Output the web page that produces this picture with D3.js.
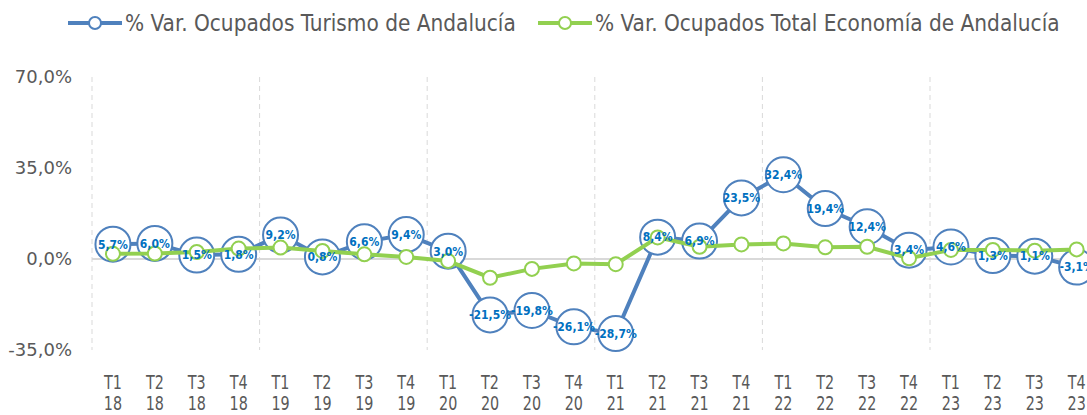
<!DOCTYPE html>
<html>
<head>
<meta charset="utf-8">
<script src="https://cdn.jsdelivr.net/npm/d3@7"></script>
<style>
  body { margin: 0; background: #fff; }
  svg { display: block; font-family: "DejaVu Sans Condensed", "Liberation Sans Narrow", sans-serif; }
</style>
</head>
<body>
<svg id="chart" width="1087" height="415"></svg>
<script>
// Data
const quarters = ['T1','T2','T3','T4','T1','T2','T3','T4','T1','T2','T3','T4','T1','T2','T3','T4','T1','T2','T3','T4','T1','T2','T3','T4'];
const years = ['18','18','18','18','19','19','19','19','20','20','20','20','21','21','21','21','22','22','22','22','23','23','23','23'];
const turismo = [5.7, 6.0, 1.5, 1.8, 9.2, 0.8, 6.6, 9.4, 3.0, -21.5, -19.8, -26.1, -28.7, 8.4, 6.9, 23.5, 32.4, 19.4, 12.4, 3.4, 4.6, 1.3, 1.1, -3.1];
const totalEconomia = [2.0, 2.1, 2.7, 4.0, 4.4, 3.1, 1.8, 0.8, -0.8, -7.2, -3.8, -1.7, -2.0, 8.3, 4.7, 5.6, 6.0, 4.5, 4.7, 0.3, 3.5, 3.5, 3.2, 3.7];
const yTicks = [-35, 0, 35, 70];
const seriesNames = ['% Var. Ocupados Turismo de Andalucía', '% Var. Ocupados Total Economía de Andalucía'];

const blue = '#4F81BD';
const green = '#92D050';
const labelBlue = '#0070C0';
const textGray = '#595959';

const svg = d3.select('#chart');
const idx = d3.range(quarters.length);

const x = d3.scaleBand().domain(idx).range([92, 92 + 24 * 41.9]).padding(0);
const cx = i => x(i) + x.bandwidth() / 2;
const y = d3.scaleLinear().domain([-35, 70]).range([350, 77]);

// spanish style number: comma decimal, plain hyphen for negatives
const fmt = v => d3.format('.1f')(v).replace('.', ',').replace('\u2212', '-') + '%';

// year separators (dashed)
svg.append('g')
  .selectAll('line')
  .data(idx.filter(i => i % 4 === 0))
  .join('line')
  .attr('x1', i => x(i)).attr('x2', i => x(i))
  .attr('y1', y(70)).attr('y2', y(-35))
  .attr('stroke', '#d9d9d9')
  .attr('stroke-width', 1)
  .attr('stroke-dasharray', '5,4');

// zero line
svg.append('line')
  .attr('x1', x(0)).attr('x2', 1087)
  .attr('y1', y(0)).attr('y2', y(0))
  .attr('stroke', '#d9d9d9')
  .attr('stroke-width', 2);

// y axis labels
svg.append('g')
  .selectAll('text')
  .data(yTicks)
  .join('text')
  .attr('x', 72)
  .attr('y', d => y(d))
  .attr('dy', '0.36em')
  .attr('text-anchor', 'end')
  .attr('fill', textGray)
  .style('font-family', '"DejaVu Sans", sans-serif')
  .style('font-size', '18px')
  .text(d => fmt(d));

// x axis labels (narrow)
const xl = svg.append('g')
  .selectAll('g')
  .data(idx)
  .join('g')
  .attr('transform', i => `translate(${cx(i)},0) scale(0.84,1)`);
xl.append('text')
  .attr('y', 389)
  .attr('text-anchor', 'middle')
  .attr('fill', textGray)
  .style('font-size', '19px')
  .text(i => quarters[i]);
xl.append('text')
  .attr('y', 410)
  .attr('text-anchor', 'middle')
  .attr('fill', textGray)
  .style('font-size', '19px')
  .text(i => years[i]);

const line = d3.line().x(i => cx(i));

// tourism line + markers
svg.append('path')
  .attr('d', line.y(i => y(turismo[i]))(idx))
  .attr('fill', 'none')
  .attr('stroke', blue)
  .attr('stroke-width', 4);
svg.append('g')
  .selectAll('circle')
  .data(idx)
  .join('circle')
  .attr('cx', i => cx(i))
  .attr('cy', i => y(turismo[i]))
  .attr('r', 17.5)
  .attr('fill', '#fff')
  .attr('stroke', blue)
  .attr('stroke-width', 2);

// total economy line + markers
svg.append('path')
  .attr('d', line.y(i => y(totalEconomia[i]))(idx))
  .attr('fill', 'none')
  .attr('stroke', green)
  .attr('stroke-width', 4);
svg.append('g')
  .selectAll('circle')
  .data(idx)
  .join('circle')
  .attr('cx', i => cx(i))
  .attr('cy', i => y(totalEconomia[i]))
  .attr('r', 7)
  .attr('fill', '#fff')
  .attr('stroke', green)
  .attr('stroke-width', 2);

// data labels for tourism
svg.append('g')
  .selectAll('text')
  .data(idx)
  .join('text')
  .attr('x', i => cx(i))
  .attr('y', i => y(turismo[i]))
  .attr('dy', '0.36em')
  .attr('text-anchor', 'middle')
  .attr('fill', labelBlue)
  .style('font-size', '12px')
  .style('font-weight', 'bold')
  .text(i => fmt(turismo[i]));

// legend
const legend = [
  { name: seriesNames[0], color: blue, x0: 68 },
  { name: seriesNames[1], color: green, x0: 538 }
];
const lg = svg.append('g')
  .selectAll('g')
  .data(legend)
  .join('g')
  .attr('transform', d => `translate(${d.x0},23)`);
lg.append('line')
  .attr('x1', 0).attr('x2', 54)
  .attr('stroke', d => d.color)
  .attr('stroke-width', 4);
lg.append('circle')
  .attr('cx', 27)
  .attr('r', 6)
  .attr('fill', '#fff')
  .attr('stroke', d => d.color)
  .attr('stroke-width', 2);
lg.append('text')
  .attr('x', 57)
  .attr('dy', '0.36em')
  .attr('fill', textGray)
  .style('font-size', '22.4px')
  .text(d => d.name);
</script>
</body>
</html>
